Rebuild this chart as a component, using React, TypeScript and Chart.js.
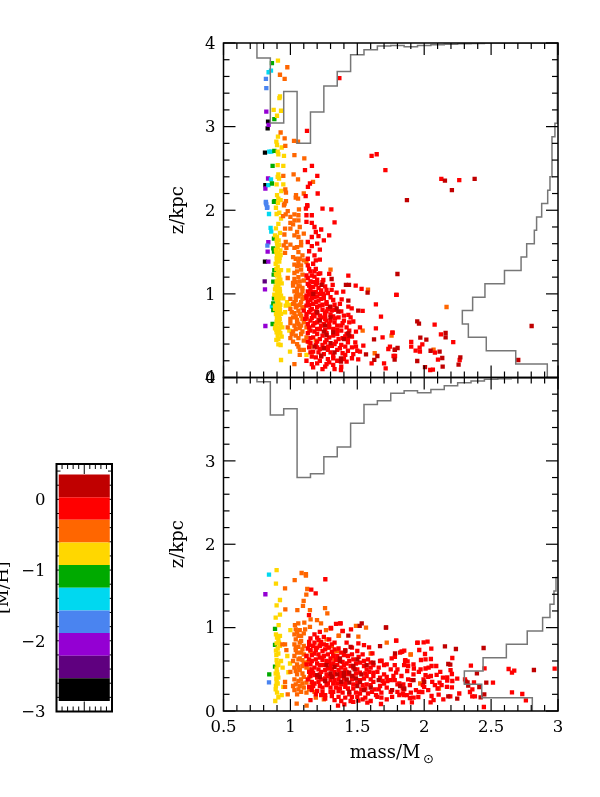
import React, { useEffect, useRef } from "react";
import { Chart, registerables } from "chart.js";
Chart.register(...registerables);

const FONT = "'DejaVu Serif'";
const colors = { dark: "#c00000", red: "#ff0000", orange: "#ff6600", yellow: "#ffd700", green: "#00aa00", cyan: "#00d8f0", blue: "#4a84f0", purple: "#9400d3", dpurple: "#5f007f", black: "#000000" };

// flat lists: mass, z, mass, z ...
const topBlack = [.833,3.06,.83,2.98,.81,2.69,.813,2.30,.81,1.385];
const topDPurple = [.808,1.15];
const topPurple = [.82,3.18,.837,3.02,.833,2.38,.813,2.26,.835,1.617,.83,1.505,.835,1.385,.81,1.054,.813,.616];
const topBlue = [.817,3.57,.82,3.46,.817,2.10,.82,2.07,.825,2.03,.828,1.577,.817,2.09,.828,2.035];
const topCyan = [.837,3.65,.855,3.67,.842,2.70,.857,2.70,.855,2.37,.835,2.30,.84,1.955,.852,1.79,.857,1.744,.862,.847];
const topGreen = [.862,3.76,.88,3.09,.88,2.71,.867,2.53,.862,2.32,.882,2.11,.877,2.10,.877,1.66,.872,1.545,.877,1.505,.88,1.285,.875,1.23,.872,1.146,.877,.947,.872,.887,.872,.807,.867,.64];
const topYellow = [.907,3.79,.922,3.36,.918,3.34,.875,3.2,.93,3.19,.90,3.13,.907,2.88,.895,2.82,.90,2.78,.935,2.75,.905,2.70,.91,2.67,.952,2.65,.905,2.54,.947,2.53,.91,2.43,.905,2.40,.915,2.38,.897,2.31,.947,2.31,.932,2.23,.90,2.18,.91,2.14,.927,2.12,.907,2.09,.892,2.03,
.897,1.955,.917,1.97,.93,1.90,.91,1.836,.892,1.784,.922,1.73,.885,1.70,.897,1.637,.915,1.585,.892,1.525,.91,1.485,.927,1.465,.897,1.425,.917,1.385,.905,1.325,.93,1.285,.985,1.28,.892,1.238,.917,1.198,.897,1.146,.935,1.126,.91,1.086,.885,1.054,.922,1.026,.897,.967,.947,.947,.91,.907,.897,.855,.992,.867,.922,.807,.892,.759,.912,.708,.897,.668,.927,.64,.885,.588,.917,.588,.897,.54,.992,.56,.935,.488,.91,.397,.927,.389,.93,.209,.997,.309,1.12,.27,
.905,1.56,.925,1.52,.90,1.45,.92,1.43,.89,1.36,.91,1.27,.90,1.22,.925,1.17,.905,1.11,.89,1.09,.92,1.06,.905,1.0,.88,.99,.93,.98,.915,.95,.90,.92,.925,.87,.905,.83,.885,.82,.91,.78,.93,.76,.90,.73,.92,.70,.905,.65,.89,.62,.915,.55,.94,.60,.905,.5,.965,.86,.975,.9,.96,.78,
.9,1.68,.912,1.64,.9,1.6,.895,1.5,.905,1.47,.912,1.4,.9,1.39,.895,1.3,.915,1.24,.905,1.16,.915,1.13,.9,1.04,.915,1.01,.895,.94,.91,.88,.885,.86,.92,.84,.9,.79,.915,.74,.9,.7,.915,.67,.905,.6,.895,.57,.925,.53,.91,.46,.895,.45];
const topOrange = [.977,3.71,.922,3.62,.957,3.57,.927,2.93,.957,2.86,1.027,2.83,1.057,2.82,.962,2.77,1.03,2.66,1.104,2.62,1.024,2.43,.947,2.41,1.057,2.37,1.169,2.34,.962,2.25,.967,2.21,1.042,2.18,1.057,2.14,1.04,2.15,1.10,2.20,.967,2.11,.957,2.08,.952,2.06,1.064,2.01,
.98,1.99,.965,1.95,.945,1.93,1.0,1.92,1.03,1.95,1.06,1.94,1.03,1.88,1.06,1.88,1.0,1.85,1.02,1.83,1.07,1.8,1.05,1.74,1.0,1.78,.96,1.78,.955,1.71,1.1,1.72,1.06,1.68,1.03,1.7,.965,1.62,.95,1.58,1.0,1.59,.97,1.55,.96,1.49,1.03,1.55,1.08,1.58,1.04,1.42,1.07,1.42,1.10,1.4,1.05,1.33,1.12,1.38,1.08,1.34,1.3,1.29,.98,1.19,1.03,1.25,1.06,1.2,1.04,1.14,1.02,1.1,1.07,1.09,1.1,1.16,1.05,1.06,1.03,1.03,1.09,1.03,1.06,.97,1.04,.93,1.09,.94,1.0,.94,1.02,.88,1.05,.86,1.08,.9,1.0,.82,1.03,.77,1.06,.8,1.1,.84,1.02,.72,1.05,.69,1.08,.74,1.0,.65,1.03,.62,1.06,.64,.98,.6,1.02,.55,1.07,.59,1.1,.66,1.04,.5,1.12,.7,1.0,.47,1.08,.52,1.02,.43,1.05,.4,1.12,.48,1.14,.58,1.07,.33,1.15,.37,1.03,.16,1.19,.44,1.63,.29,1.54,.56,1.756,.50,2.167,.843,2.07,.333,1.58,1.05,
1.08,1.62,1.05,1.56,1.06,1.5,1.02,1.44,1.09,1.46,1.06,1.38,1.03,1.35,1.08,1.29,1.05,1.27,1.09,1.23,1.03,1.18,1.07,1.15,1.02,1.13,1.06,1.1,1.09,1.07,1.05,1.01,1.08,.99,1.04,.97,1.1,.96,1.03,.9,1.07,.87,1.09,.83,1.04,.84,1.01,.78,1.07,.76,1.04,.73,1.09,.7,1.0,.7,1.05,.66,1.08,.62,1.12,.6,1.04,.58,1.09,.55,1.01,.52,1.06,.47,1.1,.44,1.14,.42,1.06,.37,1.1,.33,1.16,.3,1.07,.27];
const topRed = [1.366,3.58,1.124,2.95,1.607,2.65,1.645,2.67,1.71,2.48,1.161,2.53,1.109,2.48,1.201,2.41,1.146,2.32,1.131,2.28,1.114,2.17,1.204,2.20,1.126,2.06,1.116,2.02,1.24,2.02,1.306,2.01,2.128,2.375,2.262,2.36,
1.126,2.05,1.33,1.856,1.12,1.94,1.16,1.94,1.12,1.86,1.16,1.85,1.18,1.8,1.23,1.77,1.19,1.74,1.21,1.69,1.16,1.68,1.29,1.7,1.25,1.64,1.2,1.6,1.16,1.57,1.13,1.62,1.14,1.51,1.18,1.46,1.22,1.53,1.19,1.4,1.13,1.42,1.22,1.41,1.13,1.34,1.17,1.36,1.19,1.3,1.29,1.24,1.15,1.27,1.12,1.22,1.223,1.246,1.433,1.218,1.18,1.206,1.246,1.166,1.316,1.107,1.488,1.099,1.532,1.059,1.395,1.027,1.345,1.015,1.27,1.047,1.308,1.047,1.246,.999,1.794,.987,1.383,.935,1.32,.927,1.639,.875,1.433,.847,1.458,.827,1.308,.80,1.54,.796,1.433,.748,1.677,.728,1.333,.708,1.258,.768,1.15,1.15,1.2,1.13,1.14,1.1,1.17,1.08,1.21,1.07,1.13,1.03,1.16,1.02,1.22,1.0,1.12,.98,1.18,.96,1.15,.93,1.21,.92,1.25,.95,1.13,.9,1.17,.88,1.24,.87,1.27,.9,1.12,.86,1.2,.84,1.16,.82,1.24,.81,1.14,.78,1.2,.77,1.28,.82,1.18,.73,1.23,.72,1.3,.75,1.12,.72,1.26,.7,1.15,.68,1.2,.66,1.3,.68,1.36,.72,1.25,.64,1.17,.62,1.4,.68,1.14,.6,1.22,.58,1.29,.6,1.38,.62,1.44,.66,1.18,.55,1.35,.57,1.52,.60,1.49,.548,1.639,.588,1.762,.536,1.689,.48,1.485,.421,1.545,.381,1.732,.341,1.42,.52,1.32,.5,1.24,.5,1.17,.48,1.39,.47,1.46,.49,1.27,.45,1.2,.43,1.34,.43,1.43,.42,1.15,.41,1.24,.39,1.31,.38,1.38,.39,1.46,.36,1.22,.34,1.28,.33,1.35,.33,1.43,.32,1.17,.31,1.52,.309,1.25,.28,1.32,.26,1.41,.27,1.19,.24,1.28,.22,1.507,.217,1.35,.2,1.607,.17,1.70,.17,1.782,.257,1.712,.11,1.42,.19,1.2,.17,1.27,.16,1.32,.15,1.38,.13,1.378,.09,1.12,.2,1.17,.12,1.26,.13,
1.791,.987,1.764,.536,2.078,.632,2.125,.516,2.217,.424,1.903,.425,1.903,.369,1.986,.396,1.966,.357,1.936,.321,1.968,.309,1.744,.369,2.08,.297,2.103,.213,2.265,.209,2.045,.09,2.065,.094,1.771,.257,
1.14,1.3,1.18,1.27,1.21,1.24,1.16,1.22,1.13,1.19,1.2,1.17,1.17,1.14,1.24,1.14,1.13,1.12,1.19,1.11,1.26,1.09,1.15,1.06,1.23,1.04,1.19,1.02,1.28,1.01,1.14,.99,1.17,.98,1.25,.98,1.2,.97,1.3,.96,1.12,.95,1.16,.95,1.23,.94,1.19,.9,1.27,.88,1.33,.87,1.37,.88,1.14,.87,1.22,.86,1.3,.84,1.1,.8,1.15,.81,1.19,.79,1.27,.79,1.33,.81,1.38,.79,1.4,.74,1.12,.76,1.17,.75,1.22,.74,1.26,.74,1.32,.73,1.45,.72,1.11,.7,1.16,.71,1.21,.69,1.27,.68,1.33,.66,1.39,.65,1.47,.67,1.13,.64,1.18,.65,1.23,.62,1.29,.64,1.35,.62,1.42,.6,1.15,.56,1.2,.58,1.26,.57,1.32,.58,1.38,.56,1.44,.56,1.13,.53,1.2,.52,1.27,.53,1.35,.52,1.41,.49,1.15,.47,1.22,.46,1.29,.48,1.36,.46,1.43,.46,1.13,.43,1.19,.39,1.26,.42,1.33,.4,1.41,.37,1.49,.37,1.14,.36,1.2,.36,1.28,.37,1.37,.35,1.5,.32,1.15,.3,1.21,.3,1.3,.3,1.39,.29,1.47,.28,1.16,.25,1.23,.25,1.32,.23,1.46,.23,1.22,.2,1.29,.18,1.4,.22,1.16,.16,1.24,.1,1.33,.1];
const topDark = [1.871,2.12,2.155,2.355,2.207,2.24,2.377,2.375,1.80,1.238,2.803,.616,2.703,.209,1.948,.672,1.961,.644,2.16,.532,2.16,.48,1.971,.476,2.016,.452,1.801,.353,1.781,.333,2.048,.32,2.115,.309,2.135,.233,2.27,.241,2.257,.153,2.138,.129,2.006,.125,1.948,.197,1.779,.213,1.308,1.178,1.233,1.107,1.415,1.107,1.438,1.107,1.577,1.015,1.171,.999,1.433,.919,1.296,.847,1.346,.827,1.358,.787,1.507,.80,1.25,.548,1.27,.508,1.433,.528,1.44,.5,1.32,.54,1.625,.456,1.565,.277,1.65,.257,1.627,.21,1.378,.229,1.378,.19,1.78,.33,1.2,.78,1.26,.62,1.18,.37,1.3,.41,1.22,.68,1.3,.72,1.25,.35,1.33,.3,1.4,.46,1.23,.26];

const botPurple = [.813,1.40];
const botCyan = [.84,1.635];
const botBlue = [.84,.344];
const botGreen = [.885,.984,.885,.792,.885,.532,.842,.44];
const botYellow = [.897,1.69,.892,1.527,.922,1.331,.897,1.267,.922,1.155,.89,1.12,.912,1.03,1.0,.97,.892,.92,.922,.9,.91,.85,.897,.81,.922,.78,.892,.725,.91,.69,.977,.66,.897,.61,.93,.6,.997,.57,.897,.51,.942,.52,.985,.465,.91,.4,.897,.35,.892,.3,.947,.29,.91,.165,.887,.12,.935,.19,.89,.45,.905,.44,.895,.39,.91,.55,.9,.22,.9,.88,.915,.82,.905,.75,.895,.67,.9,.57,.9,.47,.905,.33,.89,.26];
const botOrange = [1.084,1.655,1.116,1.64,1.116,1.625,1.032,1.57,.96,1.47,1.126,1.463,1.119,1.395,1.099,1.32,1.094,1.26,.962,1.22,1.052,1.21,1.146,1.21,1.259,1.235,1.276,1.17,1.151,1.10,1.199,1.09,1.229,1.05,1.059,1.05,1.034,1.03,1.104,1.06,1.146,1.01,1.266,.97,1.49,1.02,1.565,1.0,1.047,.089,1.121,.064,1.04,.98,1.07,.97,1.11,.98,1.03,.92,1.06,.9,1.1,.93,1.04,.86,1.08,.84,1.03,.8,.96,.8,.94,.8,1.06,.77,1.1,.78,.97,.73,1.04,.73,1.08,.7,1.03,.66,1.07,.63,1.12,.66,1.02,.6,1.05,.56,1.1,.58,1.03,.52,1.07,.49,1.12,.52,1.0,.47,1.05,.44,1.09,.45,1.15,.44,1.03,.38,1.08,.38,.96,.35,1.02,.3,1.07,.3,1.12,.34,.96,.29,1.03,.25,1.08,.23,1.14,.26,.98,.2,1.05,.2,1.22,.8,1.28,.76,1.35,.72,1.19,.16,1.25,.14,1.36,.9,1.30,.99,1.363,.903,1.508,.891,1.33,.62,1.898,.676,1.72,.82,1.97,.33,2.11,.27,1.6,.69,1.9,.68,1.15,.72,
1.05,.95,1.08,.9,1.04,.76,1.07,.82,1.09,.74,1.05,.7,1.1,.68,1.06,.62,1.09,.61,1.13,.59,1.06,.53,1.09,.54,1.14,.5,1.04,.48,1.1,.41,1.14,.4,1.06,.36,1.09,.33,1.04,.32,1.1,.28,1.06,.26,1.16,.31,1.12,.22,1.18,.23,1.27,.86,1.31,.78,1.32,.7];
const botRed = [1.261,1.58,1.156,1.455,1.189,1.411,1.139,1.15,1.341,1.044,1.376,1.05,1.303,.996,1.39,.96,1.453,.98,1.356,.064,1.403,.08,1.508,.124,1.575,.10,1.677,.084,1.371,1.051,1.304,.991,1.391,.959,1.588,.763,1.508,.811,1.79,.843,1.951,.819,1.613,.691,1.682,.603,1.83,.711,1.757,.631,1.857,.603,1.725,.36,
1.22,.95,1.18,.92,1.25,.89,1.15,.87,1.21,.85,1.29,.86,1.18,.82,1.14,.79,1.25,.8,1.33,.82,1.2,.76,1.29,.76,1.42,.82,1.15,.73,1.24,.72,1.33,.74,1.46,.76,1.55,.79,1.18,.69,1.28,.68,1.38,.7,1.5,.72,1.12,.66,1.22,.64,1.32,.66,1.43,.66,1.54,.68,1.16,.6,1.27,.6,1.37,.62,1.47,.62,1.58,.62,1.67,.6,1.72,.56,1.12,.56,1.22,.55,1.32,.57,1.42,.57,1.52,.58,1.62,.55,1.18,.52,1.28,.51,1.38,.52,1.47,.52,1.57,.5,1.66,.52,1.75,.5,1.14,.47,1.23,.47,1.33,.47,1.42,.47,1.52,.46,1.62,.46,1.7,.44,1.79,.46,1.18,.43,1.28,.42,1.37,.42,1.47,.41,1.57,.42,1.67,.4,1.83,.42,1.13,.38,1.23,.38,1.33,.37,1.42,.37,1.52,.37,1.62,.35,1.75,.37,1.88,.38,1.18,.33,1.28,.33,1.38,.32,1.47,.32,1.57,.32,1.67,.3,1.8,.32,1.14,.29,1.24,.28,1.34,.28,1.43,.27,1.53,.26,1.63,.26,1.72,.28,1.84,.27,1.2,.24,1.3,.23,1.39,.22,1.49,.22,1.58,.21,1.68,.22,1.8,.23,1.26,.19,1.36,.17,1.46,.17,1.56,.16,1.65,.17,1.76,.17,1.87,.19,1.33,.13,1.45,.12,1.6,.12,1.72,.14,
1.791,.844,1.948,.816,1.996,.824,2.025,.832,2.053,.748,1.963,.732,1.836,.712,1.851,.725,2.006,.684,1.82,.7,2.21,.636,2.05,.624,2.01,.62,1.976,.612,1.781,.65,1.859,.611,1.876,.596,2.349,.544,2.055,.54,2.09,.54,2.033,.52,2.01,.51,1.973,.5,1.923,.51,1.873,.48,1.8,.5,2.631,.504,2.673,.484,2.656,.46,2.975,.508,2.451,.512,2.197,.49,2.207,.444,2.093,.433,2.05,.42,2.247,.388,2.305,.38,2.372,.344,2.172,.404,2.172,.364,2.514,.34,2.207,.284,2.342,.228,2.262,.21,2.656,.224,2.733,.204,2.359,.175,2.379,.175,2.195,.176,2.143,.14,2.76,.128,2.446,.048,2.108,.196,2.055,.18,2.048,.104,2.07,.13,1.956,.168,1.986,.228,1.908,.104,1.893,.156,1.921,.16,1.841,.104,1.849,.192,1.814,.192,2.08,.31,2.115,.34,2.1,.27,2.06,.35,2.03,.41,1.995,.38,1.99,.31,2.0,.29,2.03,.25,1.905,.37,1.893,.31,1.844,.32,1.814,.33,1.78,.37,1.85,.26,1.938,.25,1.96,.23,2.17,.29,2.21,.36,2.13,.31,2.36,.26,
1.14,.83,1.2,.88,1.23,.83,1.17,.78,1.22,.78,1.27,.79,1.31,.8,1.13,.75,1.19,.73,1.26,.74,1.31,.71,1.36,.75,1.41,.73,1.16,.67,1.21,.68,1.25,.66,1.3,.63,1.35,.66,1.4,.67,1.46,.68,1.51,.65,1.14,.62,1.19,.62,1.24,.61,1.29,.59,1.34,.61,1.39,.59,1.44,.6,1.49,.57,1.55,.6,1.6,.58,1.15,.56,1.2,.57,1.25,.55,1.3,.54,1.35,.55,1.4,.55,1.45,.54,1.55,.54,1.6,.52,1.7,.55,1.16,.5,1.21,.5,1.26,.49,1.31,.5,1.36,.49,1.41,.5,1.5,.5,1.59,.47,1.65,.47,1.17,.46,1.22,.44,1.27,.44,1.32,.42,1.37,.46,1.43,.44,1.49,.45,1.56,.45,1.62,.42,1.72,.41,1.15,.42,1.2,.4,1.26,.39,1.3,.37,1.36,.38,1.4,.39,1.46,.38,1.55,.39,1.6,.38,1.69,.36,1.77,.42,1.16,.35,1.21,.35,1.27,.31,1.32,.33,1.35,.33,1.41,.33,1.5,.34,1.54,.31,1.6,.31,1.7,.33,1.17,.3,1.22,.3,1.3,.28,1.37,.27,1.41,.29,1.47,.27,1.56,.27,1.61,.23,1.66,.26,1.75,.23,1.16,.25,1.24,.23,1.32,.23,1.36,.24,1.44,.2,1.52,.21,1.64,.19,1.19,.2,1.26,.15,1.31,.18,1.41,.16,1.5,.17,1.54,.14,1.68,.16,1.23,.19,1.38,.12,1.47,.11,1.15,.13,1.84,.21,1.9,.22,1.92,.44,1.96,.47,2.01,.43,2.12,.47,2.14,.4,1.88,.54,1.92,.56,1.78,.55,1.85,.55];
const botDark = [1.533,1.051,1.715,1.003,1.518,1.02,1.714,1.0,1.433,.903,1.67,.779,1.782,.691,2.155,.776,2.237,.744,2.444,.756,2.82,.492,2.394,.452,2.312,.352,2.324,.344,2.329,.304,2.464,.34,2.412,.288,2.449,.2,2.422,.164,2.247,.148,2.18,.564,2.195,.556,2.18,.176,1.45,.77,1.5,.62,1.41,.72,1.37,.63,1.57,.55,1.62,.58,1.48,.5,1.4,.46,1.53,.44,1.31,.41,1.38,.35,1.44,.34,1.26,.36,1.22,.41,1.5,.3,1.66,.37,1.44,.23,1.6,.28,1.76,.25,1.92,.37,2.0,.35,1.82,.3,1.33,.53,1.46,.42,1.85,.27,1.35,.44,1.4,.42,1.44,.46,1.49,.39,1.52,.35,1.42,.38,1.3,.45,1.55,.25,1.2,.43,1.37,.6,1.27,.55,1.47,.54];

const panelBands = [
  { key: "black", top: topBlack, bottom: [] as number[] },
  { key: "dpurple", top: topDPurple, bottom: [] as number[] },
  { key: "purple", top: topPurple, bottom: botPurple },
  { key: "blue", top: topBlue, bottom: botBlue },
  { key: "cyan", top: topCyan, bottom: botCyan },
  { key: "green", top: topGreen, bottom: botGreen },
  { key: "yellow", top: topYellow, bottom: botYellow },
  { key: "orange", top: topOrange, bottom: botOrange },
  { key: "red", top: topRed, bottom: botRed },
  { key: "dark", top: topDark, bottom: botDark },
];

const massBinsTop = [.75,.75,.85,.95,1.05,1.15,1.25,1.35,1.45,1.55,1.65,1.75,1.85,1.95,2.05,2.15,2.25,2.35,2.45,3.0];
const massHistTop = [4,3.82,3.044,3.42,2.80,3.176,3.487,3.66,3.86,3.92,3.965,3.97,3.955,3.97,3.98,3.985,3.99,3.995,4,4];
const massBinsBot = [.75,.75,.85,.95,1.05,1.15,1.25,1.35,1.45,1.55,1.65,1.75,1.85,1.95,2.05,2.15,2.25,2.35,2.45,2.55,2.65,3.0];
const massHistBot = [4,3.95,3.55,3.625,2.80,2.845,3.05,3.166,3.45,3.677,3.72,3.81,3.84,3.817,3.857,3.90,3.936,3.957,3.98,3.985,3.995,3.995];
const zEdges = [0,.16,.32,.48,.64,.8,.96,1.12,1.28,1.44,1.6,1.76,1.92,2.08,2.24,2.4,2.88,3.04,4];
const zHistTop = [2.92,2.684,2.464,2.33,2.285,2.362,2.454,2.60,2.724,2.766,2.823,2.84,2.878,2.923,2.94,2.955,2.977,2.995,2.995];
const zEdgesBot = [0,.16,.32,.48,.64,.8,.96,1.12,1.28,1.44,1.6,4];
const zHistBot = [2.808,2.43,2.30,2.44,2.614,2.77,2.885,2.94,2.97,2.985,3.0,3.0];

const xTicks = [.5,1,1.5,2,2.5,3];
const xMinor = [.6,.7,.8,.9,1.1,1.2,1.3,1.4,1.6,1.7,1.8,1.9,2.1,2.2,2.3,2.4,2.6,2.7,2.8,2.9];
const yTicks = [0,1,2,3,4];
const yMinor = [.2,.4,.6,.8,1.2,1.4,1.6,1.8,2.2,2.4,2.6,2.8,3.2,3.4,3.6,3.8];
const barTicks = [-3,-2,-1,0];
const barMinor = [-2.8,-2.6,-2.4,-2.2,-1.8,-1.6,-1.4,-1.2,-.8,-.6,-.4,-.2,.2,.4];
const barEdges = [-2.85,-2.53,-2.21,-1.89,-1.57,-1.25,-.93,-.61,-.29,.03,.35];
const barColors = [colors.black, colors.dpurple, colors.purple, colors.blue, colors.cyan, colors.green, colors.yellow, colors.orange, colors.red, colors.dark];
const barTopFractions = [.1,.2,.3,.4,.6,.7,.8,.9];

const GRAY = "#777777";
const pts = (f: number[]) => { const o: {x:number;y:number}[] = []; for (let i=0;i+1<f.length;i+=2) o.push({x:f[i],y:f[i+1]}); return o; };
const zip = (xs: number[], ys: number[]) => xs.map((x,i)=>({x,y:ys[i]}));
const fmt = (v: any) => { const n = Number(v); return n < 0 ? "\u2212" + Math.abs(n) : String(n); };

const panelFrame = {
  id: "panelFrame",
  afterDraw(chart: any) {
    const { ctx, chartArea: a, scales: { x, y } } = chart;
    ctx.save(); ctx.strokeStyle = "#000"; ctx.lineWidth = 1.2;
    const seg = (x0:number,y0:number,x1:number,y1:number) => { ctx.beginPath(); ctx.moveTo(x0,y0); ctx.lineTo(x1,y1); ctx.stroke(); };
    for (const [list,len] of [[xTicks,12],[xMinor,6]] as [number[],number][]) for (const v of list) { const p=x.getPixelForValue(v); seg(p,a.top,p,a.top+len); seg(p,a.bottom,p,a.bottom-len); }
    for (const [list,len] of [[yTicks,12],[yMinor,6]] as [number[],number][]) for (const v of list) { const p=y.getPixelForValue(v); seg(a.left,p,a.left+len,p); seg(a.right,p,a.right-len,p); }
    ctx.lineWidth = 1.5; ctx.strokeRect(a.left,a.top,a.right-a.left,a.bottom-a.top);
    ctx.restore();
  },
};
const sunLabel = {
  id: "sunLabel",
  afterDraw(chart: any) {
    const { ctx } = chart; const t = chart.options.scales.x.title;
    if (!t.display) return;
    const a = chart.chartArea; ctx.save(); ctx.fillStyle = "#000"; ctx.font = `13px 'DejaVu Sans'`; ctx.textAlign="left"; ctx.textBaseline="alphabetic";
    ctx.fillText("\u2299", 423, a.bottom + 52); ctx.restore();
  },
};
const barFrame = {
  id: "barFrame",
  beforeDatasetsDraw(chart: any) {
    const { ctx, chartArea: a, scales: { y } } = chart;
    ctx.save(); ctx.strokeStyle = "#000"; ctx.lineWidth = 1;
    const seg = (x0:number,y0:number,x1:number,y1:number) => { ctx.beginPath(); ctx.moveTo(x0,y0); ctx.lineTo(x1,y1); ctx.stroke(); };
    for (const f of barTopFractions) { const p=a.left+f*(a.right-a.left); seg(p,a.top,p,a.top+5); seg(p,a.bottom,p,a.bottom-5); }
    { const p=(a.left+a.right)/2; seg(p,a.top,p,a.top+10); seg(p,a.bottom,p,a.bottom-10); }
    for (const v of [...barTicks, ...barMinor]) { const p=y.getPixelForValue(v); seg(a.left,p,a.left+4,p); seg(a.right,p,a.right-4,p); }
    ctx.lineWidth = 2; ctx.strokeRect(a.left,a.top,a.right-a.left,a.bottom-a.top);
    ctx.restore();
  },
};

function panelConfig(which: "top"|"bottom") {
  const isTop = which === "top";
  const scatter = panelBands.filter(b => b[which].length).map((b,i) => ({
    type: "scatter", label: b.key, data: pts(b[which]), backgroundColor: (colors as any)[b.key], borderWidth: 0, pointStyle: "rect", pointRadius: 3.05, pointHoverRadius: 3.05, showLine: false, order: 20 - i,
  }));
  const line = (data:any, stepped:any) => ({ type:"line", data, borderColor:GRAY, borderWidth:1.5, pointRadius:0, fill:false, stepped, tension:0, parsing:false, order:1 });
  const lines = isTop
    ? [line(zip(massBinsTop, massHistTop),"before"), line(zip(zHistTop, zEdges.slice(0,-1)).flatMap((p,i)=>[{x:p.x,y:zEdges[i]},{x:p.x,y:zEdges[i+1]}]),false)]
    : [line(zip(massBinsBot, massHistBot),"before"), line(zip(zHistBot, zEdgesBot.slice(0,-1)).flatMap((p,i)=>[{x:p.x,y:zEdgesBot[i]},{x:p.x,y:zEdgesBot[i+1]}]),false)];
  return {
    type: "scatter",
    data: { datasets: [...scatter, ...lines] },
    plugins: [panelFrame, sunLabel],
    options: {
      responsive: false, animation: false, events: [],
      layout: { autoPadding:false, padding: { left: 167.5, right: 42, top: isTop ? 43 : 377.5, bottom: isTop ? 419.5 : 33 } },
      plugins: { legend:{display:false}, tooltip:{enabled:false}, title:{display:false} },
      scales: {
        x: { type:"linear", min:.5, max:3, border:{display:false}, grid:{display:false,drawTicks:false},
          afterBuildTicks:(s:any)=>{s.ticks=xTicks.map(value=>({value}));},
          afterFit:(s:any)=>{s.height=isTop?0:53;},
          ticks:{ display:!isTop, autoSkip:false, maxRotation:0, padding:7, color:"#000", font:{family:FONT,size:16.5}, callback:fmt },
          title:{ display:!isTop, text:"mass/M\u00a0\u00a0", color:"#000", font:{family:FONT,size:18}, padding:{top:0,bottom:0} } },
        y: { type:"linear", min:0, max:4, border:{display:false}, grid:{display:false,drawTicks:false},
          afterBuildTicks:(s:any)=>{s.ticks=yTicks.map(value=>({value}));},
          afterFit:(s:any)=>{s.width=56;},
          ticks:{ autoSkip:false, padding:8, labelOffset:1.5, color:"#000", font:{family:FONT,size:16.5}, callback:fmt },
          title:{ display:true, text:"z/kpc", color:"#000", font:{family:FONT,size:18}, padding:{top:0,bottom:0} } },
      },
    },
  };
}
function barConfig() {
  return {
    type:"bar",
    data:{ labels:["[M/H]"], datasets: barColors.map((c,i)=>({ label:c, data:[[barEdges[i],barEdges[i+1]]], backgroundColor:c, borderWidth:0, barPercentage:.92, categoryPercentage:1, grouped:false })) },
    plugins:[barFrame],
    options:{
      responsive:false, animation:false, events:[],
      layout:{ autoPadding:false, padding:{ left:0, right:488, top:464, bottom:85.5 } },
      plugins:{ legend:{display:false}, tooltip:{enabled:false} },
      scales:{
        x:{ type:"category", border:{display:false}, grid:{display:false}, ticks:{display:false}, afterFit:(s:any)=>{s.height=0;} },
        y:{ type:"linear", min:-3, max:.5, border:{display:false}, grid:{display:false,drawTicks:false},
          afterBuildTicks:(s:any)=>{s.ticks=barTicks.map(value=>({value}));},
          afterFit:(s:any)=>{s.width=56.5;},
          ticks:{ autoSkip:false, padding:11, labelOffset:1.5, color:"#000", font:{family:FONT,size:16.5}, callback:fmt },
          title:{ display:true, text:"[M/H]", color:"#000", font:{family:FONT,size:17.5}, padding:{top:-7,bottom:0} } },
      },
    },
  };
}

export default function App() {
  const a = useRef<HTMLCanvasElement>(null), b = useRef<HTMLCanvasElement>(null), c = useRef<HTMLCanvasElement>(null);
  useEffect(() => {
    const charts = [ new Chart(a.current as any, panelConfig("top") as any), new Chart(b.current as any, panelConfig("bottom") as any), new Chart(c.current as any, barConfig() as any) ];
    return () => charts.forEach(ch => ch.destroy());
  }, []);
  const st: React.CSSProperties = { position:"absolute", left:0, top:0, width:600, height:797 };
  return <div>
    <canvas ref={a} width={600} height={797} style={st} />
    <canvas ref={b} width={600} height={797} style={st} />
    <canvas ref={c} width={600} height={797} style={st} />
  </div>;
}
